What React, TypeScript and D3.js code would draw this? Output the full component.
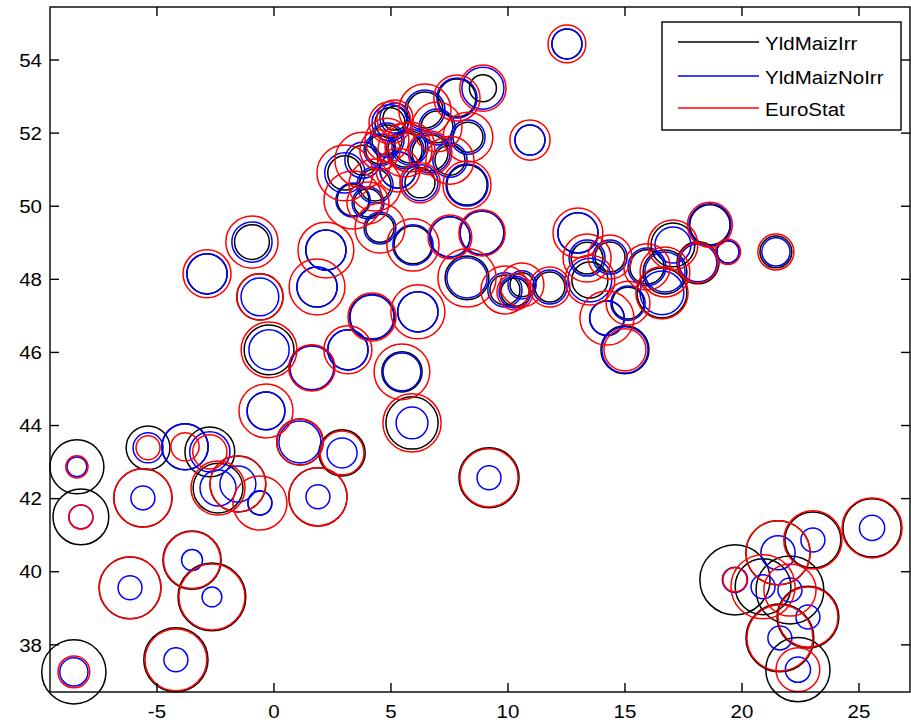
import React from "react";
import * as d3 from "d3";

// longitude / latitude of each region
const lon = [
  -8.42, -8.25, -8.55, -5.6, -6.15, -3.5, -2.65, -4.19, -5.38, -3.8, -2.74, -2.39, -1.54, -0.6, 1.88, 2.91, 1.11, -0.34,
  -2.86, -0.94, -0.6, 2.22, 1.84, 4.19, 6.15, -0.21, 1.62, 3.16, 5.47, 5.9, 9.19, 5.94, 4.53, 7.52, 8.89, 8.25, 9.87,
  10.3, 10.6, 11.79, 12.99, 13.5, 14.36, 15.94, 16.58, 17.05, 18.12, 18.63, 19.4, 21.45, 15.0, 14.23, 15.13, 16.71,
  13.38, 10.94, 12.52, 8.93, 7.82, 4.96, 4.83, 3.38, 4.02, 3.03, 3.8, 5.3, 5.81, 6.97, 8.25, 8.29, 6.24, 6.67, 5.17,
  7.52, 4.53, 5.6, 4.32, 6.45, 25.56, 23.03, 21.54, 19.7, 20.9, 22.05, 22.82, 21.62, 22.39,
];
const lat = [
  42.87, 41.5, 37.26, 42.02, 39.56, 40.32, 39.31, 37.59, 43.39, 43.42, 43.28, 42.29, 42.4, 41.88, 42.05, 43.25, 43.55,
  44.4, 48.15, 49.02, 47.52, 48.8, 47.79, 46.97, 47.11, 46.07, 45.58, 46.07, 45.47, 44.07, 42.57, 48.94, 49.4, 49.16,
  49.27, 48.04, 47.71, 47.65, 47.85, 47.79, 49.27, 47.98, 48.61, 48.34, 47.63, 48.94, 48.45, 49.49, 48.75, 48.75,
  46.07, 46.94, 47.35, 48.2, 48.58, 51.81, 54.44, 53.23, 52.96, 52.28, 51.81, 50.17, 50.09, 50.91, 51.26, 50.99,
  51.62, 52.17, 50.58, 51.89, 50.64, 51.46, 52.41, 51.26, 51.54, 51.54, 50.58, 52.63, 41.2, 40.87, 40.52, 39.78,
  39.59, 39.5, 38.76, 38.19, 37.32,
];
// maize yields (t/ha), drawn as circle size
const yldMaizIrr = [
  9.0, 9.3, 10.7, 9.7, 10.3, 9.7, 11.3, 10.7, 7.3, 7.7, 8.3, 8.3, 9.3, 4.0, 9.7, 7.7, 7.7, 6.3, 6.7, 5.8, 7.7, 6.7, 6.7,
  7.5, 6.7, 8.3, 7.5, 6.7, 6.7, 8.7, 10.0, 6.3, 4.7, 6.7, 7.3, 7.3, 5.0, 4.7, 4.0, 5.0, 6.7, 6.0, 5.0, 5.7, 8.3, 7.3,
  7.0, 6.7, 3.7, 5.3, 8.0, 5.8, 5.3, 7.3, 5.3, 5.0, 5.0, 4.5, 6.3, 5.0, 5.0, 5.3, 4.7, 5.7, 5.0, 6.0, 5.3, 5.3, 6.7,
  5.0, 5.0, 6.0, 4.0, 5.0, 4.7, 5.7, 5.3, 6.0, 9.7, 9.3, 10.7, 11.7, 9.3, 11.3, 10.3, 11.3, 10.7,
];
const yldMaizNoIrr = [
  3.3, 4.0, 4.7, 4.0, 4.0, 3.5, 3.3, 4.0, 5.0, 7.7, 6.7, 6.0, 6.0, 4.0, 4.0, 5.0, 7.0, 6.3, 6.7, 6.7, 6.3, 6.7, 6.7,
  7.3, 6.7, 6.7, 7.3, 6.7, 6.3, 5.3, 4.0, 6.7, 5.3, 6.7, 7.3, 6.7, 5.7, 5.3, 4.7, 5.7, 6.7, 7.3, 5.7, 6.3, 7.3, 6.0,
  6.3, 7.0, 3.7, 4.7, 7.7, 5.7, 5.7, 6.7, 6.0, 5.0, 5.0, 7.0, 6.7, 6.0, 5.7, 5.7, 5.3, 6.7, 6.0, 6.0, 6.0, 6.0, 7.0,
  5.7, 6.0, 6.7, 5.0, 5.7, 5.3, 6.3, 6.0, 6.7, 4.2, 4.0, 5.7, 4.2, 4.0, 4.0, 4.0, 4.0, 4.2,
];
const euroStat = [
  3.7, 4.0, 5.3, 9.7, 10.3, 9.5, 11.0, 10.3, 4.0, 4.7, 5.7, 9.0, 9.3, 9.0, 9.7, 7.3, 7.7, 9.0, 8.0, 8.7, 7.7, 9.3, 9.3,
  8.0, 9.0, 9.3, 7.7, 8.0, 9.3, 9.7, 9.7, 8.7, 8.3, 7.3, 7.7, 9.7, 8.0, 6.0, 7.3, 6.7, 8.3, 8.3, 7.3, 7.7, 8.7, 8.3,
  6.7, 7.5, 4.2, 6.0, 7.0, 9.0, 7.3, 8.3, 8.0, 6.7, 6.3, 7.7, 7.7, 7.0, 7.3, 9.7, 7.0, 9.3, 9.3, 7.3, 8.3, 8.3, 8.0,
  8.3, 6.7, 7.3, 6.0, 8.0, 6.7, 9.0, 8.7, 8.7, 10.0, 9.7, 10.7, 4.0, 10.7, 8.7, 10.0, 11.0, 7.3,
];
const xTicks = [-5, 0, 5, 10, 15, 20, 25];
const yTicks = [38, 40, 42, 44, 46, 48, 50, 52, 54];
const seriesNames = ["YldMaizIrr", "YldMaizNoIrr", "EuroStat"];
const seriesColors = ["#000000", "#0000ff", "#ff0000"];

const W = 911;
const H = 724;
const L = 50, R = 910, T = 7, B = 692;
const FONT = "'Liberation Sans', Arial, sans-serif";

export default function App() {
  const x = d3.scaleLinear().domain([-9.57, 27.18]).range([L, R]);
  const y = d3.scaleLinear().domain([36.71, 55.45]).range([B, T]);
  const r = d3.scaleLinear().domain([0, 10]).range([0, 30]);
  const series = [yldMaizIrr, yldMaizNoIrr, euroStat];
  const tl = 9;
  const txt = (s: string, tx: number, ty: number, anchor: string, key: string) => (
    <text
      key={key}
      transform={`translate(${tx},${ty}) scale(1.08,1)`}
      textAnchor={anchor}
      fontFamily={FONT}
      fontSize={19}
      fill="#000"
    >
      {s}
    </text>
  );
  return (
    <svg
      width={W}
      height={H}
      style={{ position: "absolute", left: 0, top: 0, background: "#fff" }}
    >
      <rect x={0} y={0} width={W} height={H} fill="#fff" />
      {series.map((vals, si) => (
        <g key={si} fill="none" stroke={seriesColors[si]} strokeWidth={1.5}>
          {vals.map((v, i) => (
            <circle key={i} cx={x(lon[i])} cy={y(lat[i])} r={r(v)} />
          ))}
        </g>
      ))}
      <g stroke="#000" strokeWidth={1.4} fill="none">
        <rect x={L} y={T} width={R - L} height={B - T} />
        {xTicks.map((t) => (
          <g key={"xt" + t}>
            <line x1={x(t)} x2={x(t)} y1={B} y2={B - tl} />
            <line x1={x(t)} x2={x(t)} y1={T} y2={T + tl} />
          </g>
        ))}
        {yTicks.map((t) => (
          <g key={"yt" + t}>
            <line x1={L} x2={L + tl} y1={y(t)} y2={y(t)} />
            <line x1={R} x2={R - tl} y1={y(t)} y2={y(t)} />
          </g>
        ))}
      </g>
      {xTicks.map((t) => txt(String(t), x(t), 718, "middle", "xl" + t))}
      {yTicks.map((t) => txt(String(t), 42, y(t) + 6.7, "end", "yl" + t))}
      <g>
        <rect x={662} y={22} width={239} height={108} fill="#fff" stroke="#000" strokeWidth={1.4} />
        {seriesNames.map((n, i) => {
          const ly = [42, 76, 108][i];
          return (
            <g key={n}>
              <line x1={678} x2={759} y1={ly} y2={ly} stroke={seriesColors[i]} strokeWidth={1.5} />
              {txt(n, 765, ly + 8, "start", "lg" + i)}
            </g>
          );
        })}
      </g>
    </svg>
  );
}
